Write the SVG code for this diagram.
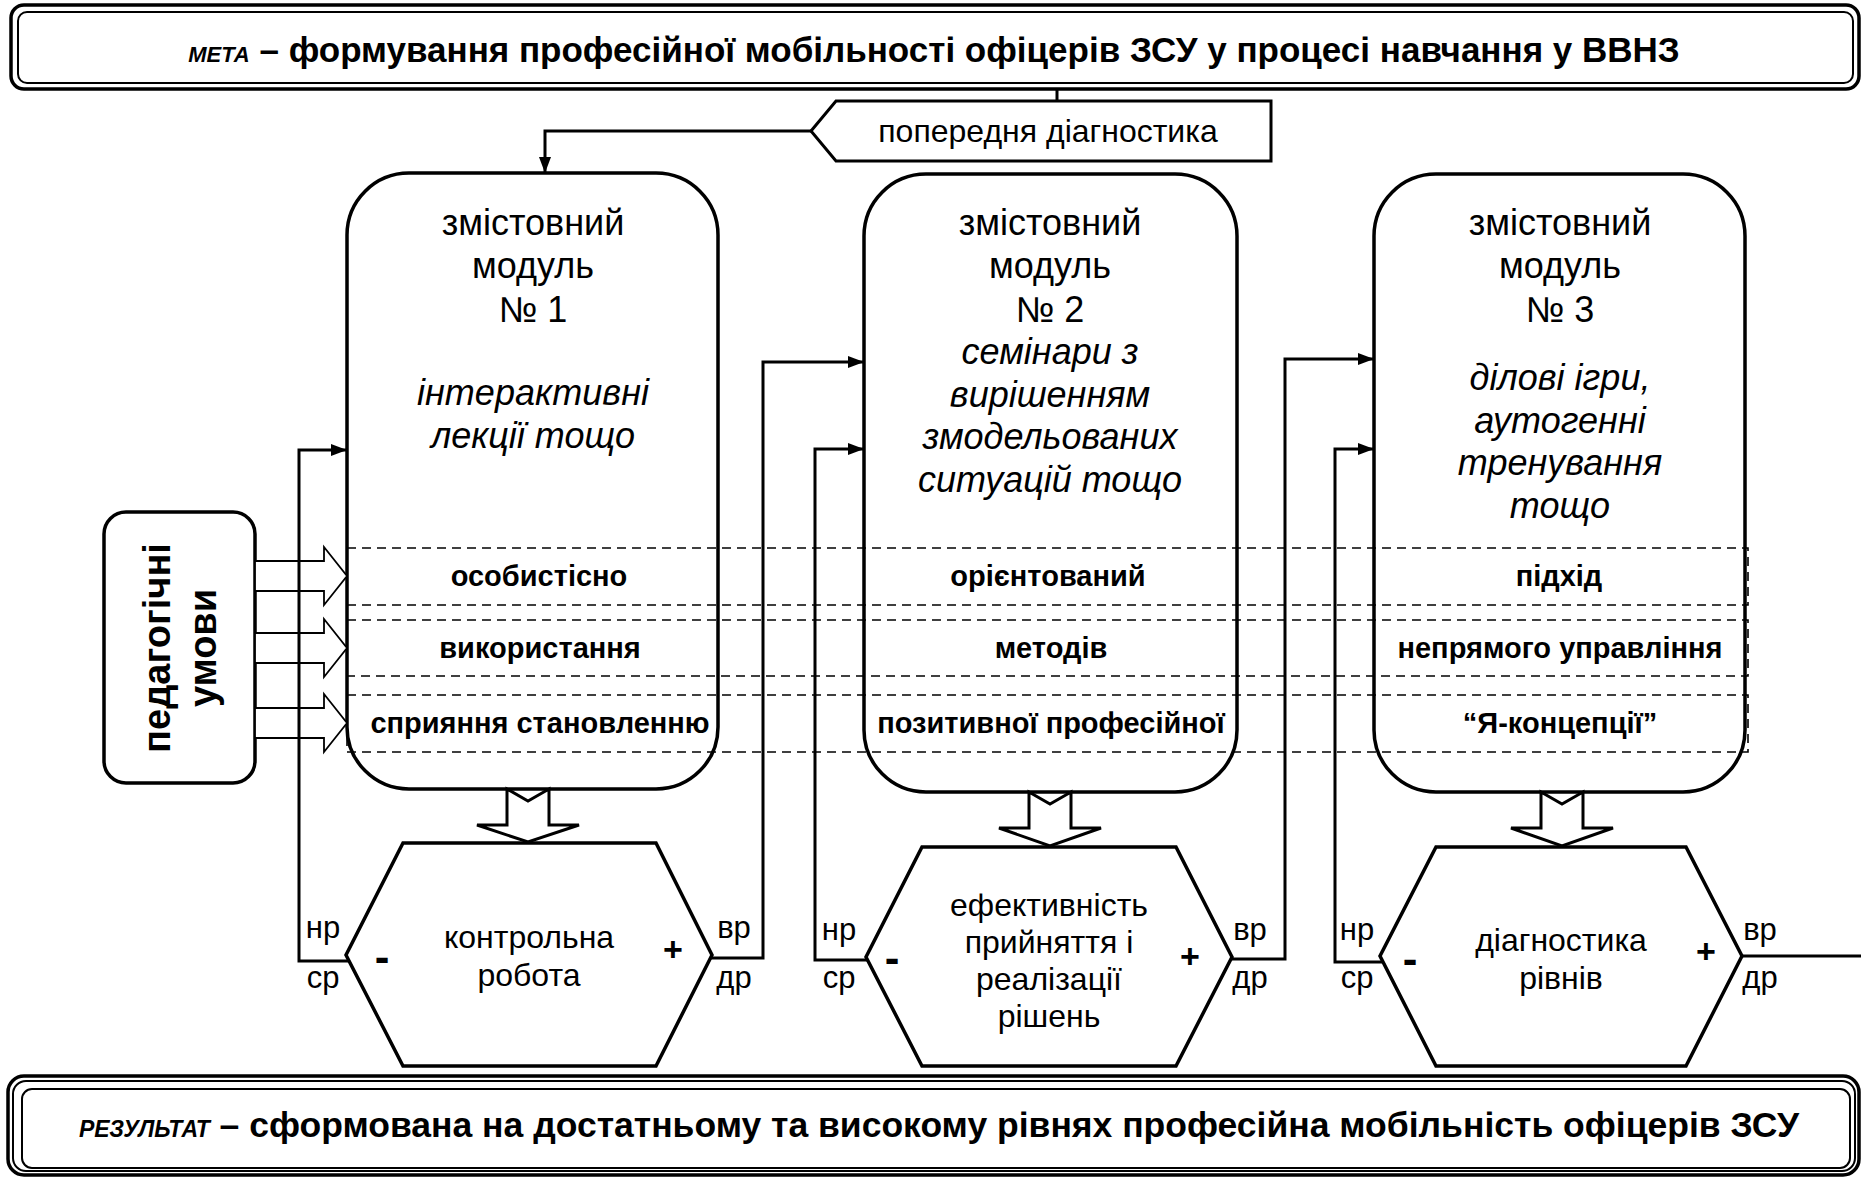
<svg xmlns="http://www.w3.org/2000/svg" width="1861" height="1177" viewBox="0 0 1861 1177">
<defs>
<marker id="ah" markerWidth="16" markerHeight="12" refX="16" refY="6" orient="auto" markerUnits="userSpaceOnUse"><path d="M0,0 L16,6 L0,12 z" fill="#000"/></marker>
<style>
text{font-family:"Liberation Sans",Arial,sans-serif;fill:#000}
.mod{fill:#fff;stroke:#000;stroke-width:3.5}
.hex{fill:#fff;stroke:#000;stroke-width:3.5}
.mt{font-size:36px;text-anchor:middle}
.mi{font-size:36px;text-anchor:middle;font-style:italic}
.rl{font-size:29px;font-weight:bold;text-anchor:middle}
.ht{font-size:32px;text-anchor:middle}
.lb{font-size:31px;text-anchor:middle}
.sg{font-size:34px;font-weight:bold;text-anchor:middle}
.mn{font-size:44px;font-weight:bold;text-anchor:middle}
.dash{fill:none;stroke:#000;stroke-width:1.6;stroke-dasharray:9 6}
.ha{fill:#fff;stroke:#000;stroke-width:1.8}
.ba{fill:#fff;stroke:#000;stroke-width:3}
.con{fill:none;stroke:#000;stroke-width:3}
</style>
</defs>
<rect width="1861" height="1177" fill="#fff"/>

<g id="goal">
<rect x="11" y="5" width="1848" height="84" rx="13" fill="#fff" stroke="#000" stroke-width="3.5"/>
<rect x="18" y="12" width="1835" height="71" rx="9" fill="none" stroke="#000" stroke-width="2"/>
<text x="934" y="62" text-anchor="middle" font-size="35" font-weight="bold"><tspan font-style="italic" font-size="22">МЕТА</tspan> – формування професійної мобільності офіцерів ЗСУ у процесі навчання у ВВНЗ</text>
</g>

<g id="prediag">
<path d="M811,131 L836,101 H1271 V161 H836 Z" fill="#fff" stroke="#000" stroke-width="3"/>
<text x="1048" y="142" class="ht">попередня діагностика</text>
</g>

<g id="ped">
<rect x="104" y="512" width="151" height="271" rx="22" fill="#fff" stroke="#000" stroke-width="3.5"/>
<text transform="rotate(-90)" x="-648" y="170" font-size="38" font-weight="bold" text-anchor="middle">педагогічні</text>
<text transform="rotate(-90)" x="-648" y="216" font-size="38" font-weight="bold" text-anchor="middle">умови</text>
</g>

<g id="module1">
<rect x="347" y="173" width="371" height="616" rx="62" class="mod"/>
<text x="533" y="235" class="mt">змістовний</text>
<text x="533" y="278" class="mt">модуль</text>
<text x="533" y="322" class="mt">№ 1</text>
<text x="533" y="405" class="mi">інтерактивні</text>
<text x="533" y="448" class="mi">лекції тощо</text>
</g>

<g id="module2">
<rect x="864" y="174" width="373" height="618" rx="62" class="mod"/>
<text x="1050" y="235" class="mt">змістовний</text>
<text x="1050" y="278" class="mt">модуль</text>
<text x="1050" y="322" class="mt">№ 2</text>
<text x="1050" y="364" class="mi">семінари з</text>
<text x="1050" y="407" class="mi">вирішенням</text>
<text x="1050" y="449" class="mi">змодельованих</text>
<text x="1050" y="492" class="mi">ситуацій тощо</text>
</g>

<g id="module3">
<rect x="1374" y="174" width="371" height="618" rx="62" class="mod"/>
<text x="1560" y="235" class="mt">змістовний</text>
<text x="1560" y="278" class="mt">модуль</text>
<text x="1560" y="322" class="mt">№ 3</text>
<text x="1560" y="390" class="mi">ділові ігри,</text>
<text x="1560" y="433" class="mi">аутогенні</text>
<text x="1560" y="475" class="mi">тренування</text>
<text x="1560" y="518" class="mi">тощо</text>
</g>

<g id="rows">
<rect x="347" y="548" width="1401" height="57" class="dash"/>
<rect x="347" y="620" width="1401" height="56" class="dash"/>
<rect x="347" y="695" width="1401" height="57" class="dash"/>
<text x="539" y="586" class="rl">особистісно</text>
<text x="1048" y="586" class="rl">орієнтований</text>
<text x="1559" y="586" class="rl">підхід</text>
<text x="540" y="658" class="rl">використання</text>
<text x="1051" y="658" class="rl">методів</text>
<text x="1560" y="658" class="rl">непрямого управління</text>
<text x="540" y="733" class="rl">сприяння становленню</text>
<text x="1051" y="733" class="rl">позитивної професійної</text>
<text x="1560" y="733" class="rl">“Я-концепції”</text>
</g>

<g id="cond-arrows">
<polygon points="255,561 324,561 324,547 347,576 324,605 324,591 255,591" class="ha"/>
<polygon points="255,633 324,633 324,619 347,648 324,677 324,663 255,663" class="ha"/>
<polygon points="255,708 324,708 324,694 347,723 324,752 324,738 255,738" class="ha"/>
</g>

<g id="down-arrows">
<polygon points="507,789 528,801 549,789 549,825 579,825 528,842 477,825 507,825" class="ba"/>
<polygon points="1029,792 1050,804 1071,792 1071,828 1101,828 1050,846 999,828 1029,828" class="ba"/>
<polygon points="1541,792 1562,804 1583,792 1583,828 1613,828 1562,846 1511,828 1541,828" class="ba"/>
</g>

<g id="connectors">
<path d="M1057,89 V101" class="con"/>
<path d="M811,131 H545 V173" class="con" marker-end="url(#ah)"/>
<path d="M350,961 H299 V450 H347" class="con" marker-end="url(#ah)"/>
<path d="M711,958 H763 V362 H864" class="con" marker-end="url(#ah)"/>
<path d="M868,960 H815 V449 H864" class="con" marker-end="url(#ah)"/>
<path d="M1231,959 H1285 V359 H1374" class="con" marker-end="url(#ah)"/>
<path d="M1384,962 H1335 V449 H1374" class="con" marker-end="url(#ah)"/>
<path d="M1741,956 H1861" class="con"/>
</g>

<g id="test1">
<polygon points="403,843 656,843 712,955 656,1066 403,1066 346,955" class="hex"/>
<text x="529" y="948" class="ht">контрольна</text>
<text x="529" y="986" class="ht">робота</text>
<text x="382" y="972" class="mn">-</text>
<text x="673" y="961" class="sg">+</text>
<text x="323" y="938" class="lb">нр</text>
<text x="323" y="988" class="lb">ср</text>
<text x="734" y="938" class="lb">вр</text>
<text x="734" y="988" class="lb">др</text>
</g>

<g id="test2">
<polygon points="922,847 1176,847 1232,957 1176,1066 922,1066 866,957" class="hex"/>
<text x="1049" y="916" class="ht">ефективність</text>
<text x="1049" y="953" class="ht">прийняття і</text>
<text x="1049" y="990" class="ht">реалізації</text>
<text x="1049" y="1027" class="ht">рішень</text>
<text x="892" y="973" class="mn">-</text>
<text x="1190" y="968" class="sg">+</text>
<text x="839" y="940" class="lb">нр</text>
<text x="839" y="988" class="lb">ср</text>
<text x="1250" y="940" class="lb">вр</text>
<text x="1250" y="988" class="lb">др</text>
</g>

<g id="test3">
<polygon points="1436,847 1686,847 1742,956 1686,1066 1436,1066 1380,956" class="hex"/>
<text x="1561" y="951" class="ht">діагностика</text>
<text x="1561" y="989" class="ht">рівнів</text>
<text x="1410" y="974" class="mn">-</text>
<text x="1706" y="963" class="sg">+</text>
<text x="1357" y="940" class="lb">нр</text>
<text x="1357" y="988" class="lb">ср</text>
<text x="1760" y="940" class="lb">вр</text>
<text x="1760" y="988" class="lb">др</text>
</g>

<g id="result">
<rect x="8" y="1076" width="1851" height="99" rx="16" fill="#fff" stroke="#000" stroke-width="3.5"/>
<rect x="13" y="1081" width="1842" height="90" rx="13" fill="none" stroke="#000" stroke-width="2"/>
<rect x="22" y="1089" width="1828" height="79" rx="10" fill="none" stroke="#000" stroke-width="2"/>
<text x="939" y="1137" text-anchor="middle" font-size="35.5" font-weight="bold"><tspan font-style="italic" font-size="23">РЕЗУЛЬТАТ</tspan> – сформована на достатньому та високому рівнях професійна мобільність офіцерів ЗСУ</text>
</g>
</svg>
